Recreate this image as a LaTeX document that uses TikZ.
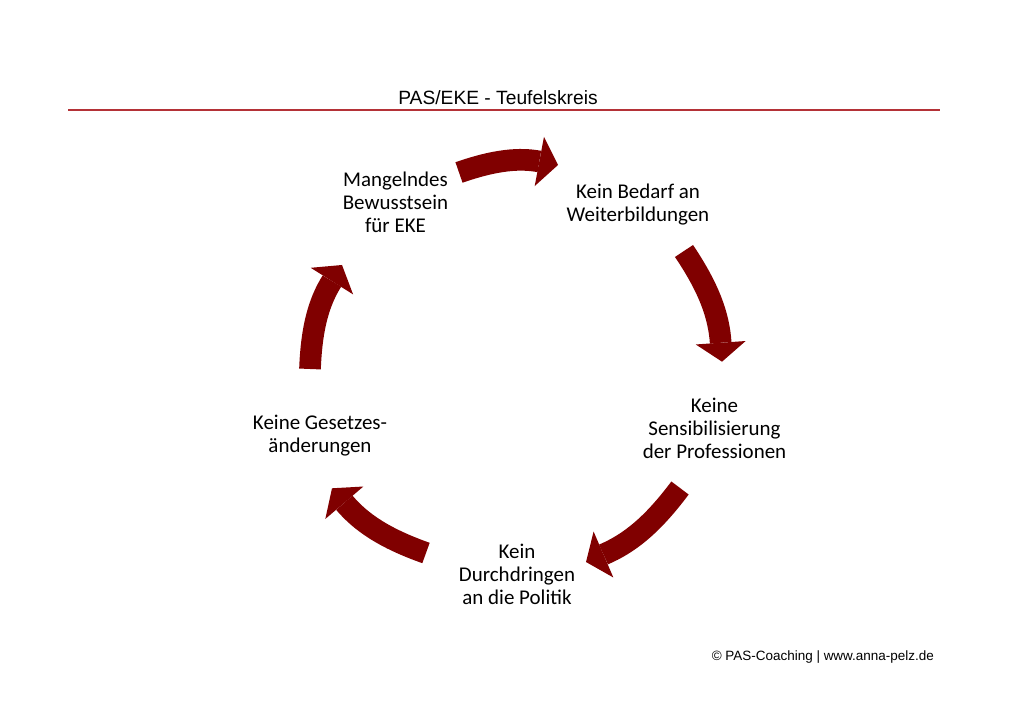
\documentclass[tikz,border=0pt]{standalone}
\usepackage{fontspec}
\setmainfont{Carlito}
\newfontfamily\titelfont{Liberation Sans}
\usetikzlibrary{arrows.meta}
\definecolor{kreisrot}{RGB}{128,0,0}
\definecolor{linienrot}{RGB}{180,50,55}

\begin{document}
\begin{tikzpicture}[x=0.3mm,y=0.3mm,
    stufe/.style={align=center,inner sep=0pt,font=\fontsize{17.9}{19.6}\selectfont},
    pfeil/.style={color=kreisrot,line width=6.5mm,-{Triangle[width=15mm,length=5.7mm,line width=0pt]}}]

    \useasboundingbox (0,0) rectangle (1024,724);

    \node[anchor=base,font=\titelfont\fontsize{16.4}{19}\selectfont] (titel) at (498,619) {PAS/EKE - Teufelskreis};
    \draw[linienrot,line width=0.45mm] (68,614) -- (940,614);

    \node[stufe]  (0) at (395.5,521.8)  {Mangelndes\\Bewusstsein\\für EKE};
    \node[stufe]  (1) at (638,519.5)    {Kein Bedarf an\\Weiterbildungen};
    \node[stufe]  (2) at (714.5,295.3)  {Keine\\Sensibilisierung\\der Professionen};
    \node[stufe]  (3) at (517,149.5)    {Kein\\Durchdringen\\an die Politik};
    \node[stufe]  (4) at (320,288)      {Keine Gesetzes-\\änderungen};

    \coordinate (0s) at (459,551.5);  \coordinate (0e) at (558,559);
    \coordinate (1s) at (684,473);    \coordinate (1e) at (722,362.3);
    \coordinate (2s) at (680,236);    \coordinate (2e) at (586,162);
    \coordinate (3s) at (426,171);    \coordinate (3e) at (332,235.7);
    \coordinate (4s) at (310,355);    \coordinate (4e) at (342,459);

  \path[pfeil] (0s)     edge[bend left=15]  (0e)
               (1s)     edge[bend left=15]  (1e)
               (2s)     edge[bend left=15]  (2e)
               (3s)     edge[bend left=15]  (3e)
               (4s)     edge[bend left=15]  (4e)
               ;

    \node[anchor=base east,font=\titelfont\fontsize{11.5}{13}\selectfont] (quelle) at (938,63) {© PAS-Coaching | www.anna-pelz.de};
\end{tikzpicture}
\end{document}
